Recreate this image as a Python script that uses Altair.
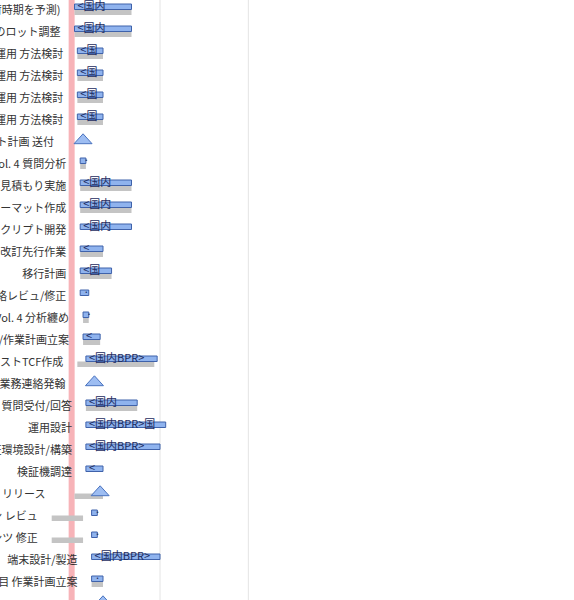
import altair as alt
import pandas as pd

# ---- data -------------------------------------------------------------
row_ids = [f"r{i:02d}" for i in range(28)]
task_labels = [
    "部材調達 (出荷時期を予測)",
    "初回生産のロット調整",
    "サーバ運用 方法検討",
    "ネットワーク運用 方法検討",
    "端末運用 方法検討",
    "アプリ運用 方法検討",
    "プロジェクト計画 送付",
    "Vol. 4 質問分析",
    "概算見積もり実施",
    "帳票フォーマット作成",
    "移行スクリプト開発",
    "仕様書 改訂先行作業",
    "移行計画",
    "連絡レビュ/修正",
    "Vol. 4 分析纏め",
    "テスト/作業計画立案",
    "テストTCF作成",
    "業務連絡発翰",
    "Q&A 質問受付/回答",
    "運用設計",
    "検証環境設計/構築",
    "検証機調達",
    "初版 リリース",
    "デザイン レビュ",
    "コンテンツ 修正",
    "端末設計/製造",
    "各項目 作業計画立案",
    "",
]
kinds = ["task"] * 28
for i in (6, 17, 22, 27):
    kinds[i] = "milestone"

starts = [
    "2013-04-01", "2013-04-01", "2013-04-02", "2013-04-02", "2013-04-02", "2013-04-02",
    "2013-04-04", "2013-04-03", "2013-04-03", "2013-04-03", "2013-04-03", "2013-04-03",
    "2013-04-03", "2013-04-03", "2013-04-04", "2013-04-04", "2013-04-05", "2013-04-08",
    "2013-04-05", "2013-04-05", "2013-04-05", "2013-04-05", "2013-04-10", "2013-04-07",
    "2013-04-07", "2013-04-07", "2013-04-07", "2013-04-11",
]
ends = [
    "2013-04-21", "2013-04-21", "2013-04-11", "2013-04-11", "2013-04-11", "2013-04-11",
    None, "2013-04-05", "2013-04-21", "2013-04-21", "2013-04-21", "2013-04-11",
    "2013-04-14", "2013-04-06", "2013-04-06", "2013-04-10", "2013-04-30", None,
    "2013-04-23", "2013-05-03", "2013-05-01", "2013-04-11", None, "2013-04-09",
    "2013-04-09", "2013-05-01", "2013-04-11", None,
]
base_starts = [
    "2013-04-01", "2013-04-01", "2013-04-02", "2013-04-02", "2013-04-02", "2013-04-02",
    None, "2013-04-03", "2013-04-03", "2013-04-03", None, "2013-04-03",
    "2013-04-03", None, "2013-04-04", "2013-04-04", "2013-04-02", None,
    "2013-04-05", None, None, None, "2013-04-01", "2013-03-24",
    "2013-03-24", None, "2013-04-07", None,
]
base_ends = [
    "2013-04-21", "2013-04-21", "2013-04-11", "2013-04-11", "2013-04-11", "2013-04-11",
    None, "2013-04-05", "2013-04-21", "2013-04-21", None, "2013-04-11",
    "2013-04-14", None, "2013-04-06", "2013-04-10", "2013-04-29", None,
    "2013-04-23", None, None, None, "2013-04-11", "2013-04-04",
    "2013-04-04", None, "2013-04-11", None,
]
bar_texts = [
    "<国内", "<国内", "<国", "<国", "<国", "<国",
    "", "·", "<国内", "<国内", "<国内", "<",
    "<国", "·", "·", "<", "<国内BPR>", "",
    "<国内", "<国内BPR>国", "<国内BPR>", "<", "", "·",
    "·", "<国内BPR>", "·", "",
]
today = ["2013-03-31"]
grid_dates = ["2013-05-01", "2013-06-01"]

# ---- frames -----------------------------------------------------------
df = pd.DataFrame({
    "row": row_ids, "label": task_labels, "kind": kinds,
    "start": starts, "end": ends,
    "bstart": base_starts, "bend": base_ends, "btext": bar_texts,
})
s = pd.to_datetime(df["start"])
b = pd.to_datetime(df["bstart"])
df["anchor"] = pd.concat([s, b], axis=1).min(axis=1).dt.strftime("%Y-%m-%d")

tasks = df[df["kind"] == "task"]
miles = df[df["kind"] == "milestone"]
base = df[df["bstart"].notna()]

# ---- scales -----------------------------------------------------------
t0 = pd.Timestamp("2013-04-01", tz="UTC")
px_day = 2.85
x0_px = 74.5
ms_day = 86400000
d0 = int(t0.timestamp() * 1000 - x0_px / px_day * ms_day)
d1 = int(t0.timestamp() * 1000 + (574 - x0_px) / px_day * ms_day)
xs = alt.Scale(type="utc", domain=[d0, d1])
ys = alt.Scale(domain=row_ids, range=[-1.5, 614.5], paddingInner=0, paddingOuter=0)

FONT = "Noto Sans CJK JP"

grid = alt.Chart(pd.DataFrame({"d": grid_dates})).mark_rule(
    color="#e4e4e4", strokeWidth=1
).encode(x=alt.X("d:T", scale=xs, axis=None))

today_rule = alt.Chart(pd.DataFrame({"d": today})).mark_rule(
    color="#f7b3b8", strokeWidth=6
).encode(x=alt.X("d:T", scale=xs, axis=None))

gray = alt.Chart(base).mark_bar(
    height=5.5, yOffset=2.75, color="#c4c4c4"
).encode(
    x=alt.X("bstart:T", scale=xs, axis=None), x2="bend:T",
    y=alt.Y("row:N", scale=ys, axis=None),
)

bars = alt.Chart(tasks).mark_bar(
    height=5.5, yOffset=-2.75, fill="#8fb3ee", stroke="#3f62aa", strokeWidth=1
).encode(
    x=alt.X("start:T", scale=xs, axis=None), x2="end:T",
    y=alt.Y("row:N", scale=ys, axis=None),
)

btext = alt.Chart(tasks).mark_text(
    align="left", baseline="middle", dx=3, dy=-2.5, fontSize=11, font=FONT, color="#1c2b5e"
).encode(
    x=alt.X("start:T", scale=xs, axis=None),
    y=alt.Y("row:N", scale=ys, axis=None),
    text="btext:N",
)

tri = alt.Chart(miles).mark_point(
    shape="M-1,0.55L1,0.55L0,-0.55Z", size=324, filled=True, opacity=1,
    fill="#9dbdf2", stroke="#4a73bf", strokeWidth=1, yOffset=-2.75
).encode(
    x=alt.X("start:T", scale=xs, axis=None),
    y=alt.Y("row:N", scale=ys, axis=None),
)

lab_t = alt.Chart(tasks).mark_text(
    align="right", baseline="middle", dx=-14, dy=1, fontSize=11, font=FONT, color="#333333"
).encode(
    x=alt.X("anchor:T", scale=xs, axis=None),
    y=alt.Y("row:N", scale=ys, axis=None),
    text="label:N",
)
lab_m = alt.Chart(miles).mark_text(
    align="right", baseline="middle", dx=-29, dy=1, fontSize=11, font=FONT, color="#333333"
).encode(
    x=alt.X("anchor:T", scale=xs, axis=None),
    y=alt.Y("row:N", scale=ys, axis=None),
    text="label:N",
)

chart = alt.layer(grid, today_rule, gray, bars, btext, tri, lab_t, lab_m).properties(
    width=574, height=600,
    autosize=alt.AutoSizeParams(type="none"),
    padding=0,
).configure_view(stroke=None)

chart.save("out.html", embed_options={"renderer": "svg", "actions": False})
